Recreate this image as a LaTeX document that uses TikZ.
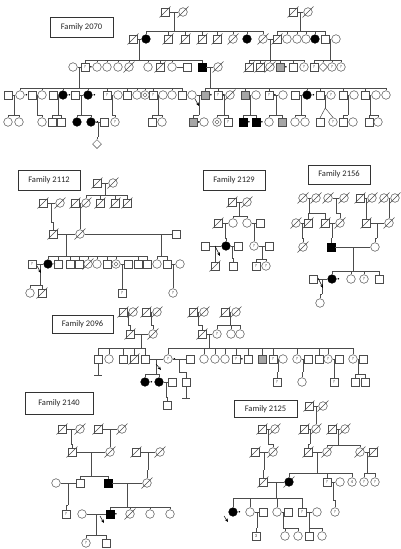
\documentclass[tikz,border=0pt]{standalone}
\usepackage{fontspec}
\setmainfont{Carlito}
\usetikzlibrary{shapes.geometric,arrows.meta}

\tikzset{
  ln/.style={draw=black!70, line width=0.5pt},
  base/.style={draw=black!70, line width=0.5pt, inner sep=0pt},
  sq/.style={base, rectangle, minimum size=7.6pt},
  ci/.style={base, circle, minimum size=8.6pt},
  dm/.style={base, diamond, minimum size=9pt},
  aff/.style={fill=black, draw=black},
  grey/.style={fill=black!35},
  dead/.style={append after command={\pgfextra{\draw[ln] ([shift={(-5.5,5.5)}]\tikzlastnode.center) -- ([shift={(5.5,-5.5)}]\tikzlastnode.center);}}},
  qlbl/.style={inner sep=0pt, font=\fontsize{4.5}{4.5}\selectfont, text=black!80},
  q/.style={label={[qlbl]center:?}},
  num/.style={label={[qlbl]center:#1}},
  dotl/.style={inner sep=0.5pt, font=\fontsize{4.5}{4.5}\selectfont},
  dot/.style={label={[dotl]right:•}},
  dmin/.style={label={[draw=black!70, line width=0.3pt, diamond, minimum size=4.5pt, inner sep=0pt]center:{}}},
  famlbl/.style={draw=black!80, line width=0.6pt, font=\fontsize{8.5}{8.5}\selectfont, text=black!85, inner sep=0pt},
  parrow/.style={draw=black, line width=0.5pt, -{Stealth[length=3.5pt,width=3pt]}},
}

% individuals
\newcommand\pSq[4][]{\node[sq,#1] (#2) at (#3,#4) {};}
\newcommand\pCi[4][]{\node[ci,#1] (#2) at (#3,#4) {};}
\newcommand\pDm[4][]{\node[dm,#1] (#2) at (#3,#4) {};}
% marriage line with a named point on it
\newcommand\wed[4][0.5]{\draw[ln] (#2) -- node[coordinate,pos=#1] (#4) {} (#3);}
% line of descent: parent point, sibship line height, children
\newcommand\kids[3]{%
  \draw[ln] (#1) -- (#1 |- 0,#2);
  \foreach \kd in {#3}{\draw[ln] (\kd.north) -- (\kd |- 0,#2) -- (#1 |- 0,#2);}}
% line ending in a bar: no offspring
\newcommand\nokids[2]{\draw[ln] (#1.south) -- (#1 |- 0,#2) ++(-4,0) -- ++(8,0);}

\begin{document}
\begin{tikzpicture}[x=1pt,y=-1pt]
\fill[white] (0,0) rectangle (401,549);
\useasboundingbox (0,0) rectangle (401,549);

% ---------------- Family 2070 ----------------
\node[famlbl, minimum width=63pt, minimum height=20pt] (t2070) at (81.5,27) {Family 2070};
\pSq[dead]{a1}{165}{12} \pCi[dead]{a2}{183}{12}
\pSq[dead]{a3}{293}{12} \pCi[dead]{a4}{308}{12}
% II
\pSq[dead]{a5}{133}{39} \pCi[aff]{a6}{146}{39}
\pSq[dead]{a7}{168}{39} \pSq[dead]{a8}{185}{39} \pSq[dead]{a9}{202}{39} \pSq[dead]{a10}{217}{39}
\pCi[dead]{a11}{233}{39} \pCi[aff]{a12}{247}{39} \pCi[dead]{a13}{263}{39}
\pSq[dead]{a14}{277}{39} \pCi{a15}{287}{39} \pCi{a16}{297}{39} \pCi{a17}{306}{39}
\pCi[aff]{a18}{315}{39} \pSq{a19}{325}{39} \pCi{a20}{336}{39}
% III
\pCi{a21}{73}{67} \pSq[q,dot]{a22}{85}{67} \pCi{a23}{97}{67} \pCi{a24}{107}{67}
\pCi{a25}{118}{67} \pCi[dead]{a26}{129}{67} \pCi{a27}{148}{67} \pSq[dead]{a28}{160}{67}
\pCi{a29}{172}{67} \pSq{a30}{187}{67} \pSq[aff]{a31}{202}{67} \pCi[dead]{a32}{218}{67}
\pSq[dead]{a33}{249}{67} \pSq[dead]{a34}{260}{67} \pCi[dead]{a35}{270}{67}
\pSq[grey,dot]{a36}{280}{67} \pSq{a37}{293}{67} \pCi[q]{a38}{304}{67}
\pSq[q]{a39}{314}{67} \pDm{a40}{323}{67} \pCi[q]{a41}{332}{67} \pCi[q]{a42}{341}{67}
% IV
\pSq{a43}{8}{95} \pCi[dot]{a44}{20}{95} \pSq{a45}{32}{95} \pCi{a46}{42}{95}
\pSq{a47}{53}{95} \pCi[aff,dot]{a48}{63}{95} \pSq{a49}{75}{95} \pCi[aff,dot]{a50}{88}{95}
\pSq[q]{a51}{107}{95} \pCi{a52}{118}{95} \pSq{a53}{127}{95} \pCi{a54}{137}{95}
\pCi[dmin]{a55}{145}{95} \pSq[q]{a56}{153}{95} \pCi{a57}{163}{95} \pCi{a58}{172}{95}
\pSq{a59}{182}{95} \pCi{a60}{192}{95} \pSq[grey,dot]{a61}{205}{95} \pSq[q,dot]{a62}{218}{95}
\pCi[dead]{a63}{230}{95} \pSq[grey]{a64}{245}{95} \pCi{a65}{256}{95} \pSq[q,dot]{a66}{269}{95}
\pCi{a67}{283}{95} \pSq{a68}{295}{95} \pCi[aff,dot]{a69}{307}{95} \pSq{a70}{320}{95}
\pCi[q]{a71}{331}{95} \pSq{a72}{343}{95} \pCi{a73}{354}{95} \pSq{a74}{365}{95}
\pCi{a75}{376}{95} \pCi{a76}{386}{95}
% V
\pCi{a77}{8}{122} \pCi{a78}{19}{122} \pCi{a79}{42}{122} \pSq{a80}{52}{122} \pSq{a81}{61}{122}
\pCi[aff]{a82}{77}{122} \pCi[aff,dot]{a83}{91}{122} \pSq{a84}{104}{122} \pDm{a85}{97}{144}
\pCi[q]{a86}{115}{122} \pSq{a87}{152}{122} \pCi{a88}{162}{122}
\pSq[grey,dot]{a89}{193}{122} \pCi{a90}{204}{122} \pCi[dmin]{a91}{217}{122} \pSq[q]{a92}{228}{122}
\pSq[aff,dot]{a93}{243}{122} \pSq[aff,dot]{a94}{256}{122} \pCi{a95}{269}{122} \pSq[grey]{a96}{282}{122}
\pCi{a97}{295}{122} \pCi{a98}{305}{122} \pSq{a99}{320}{122} \pCi[q]{a100}{333}{122}
\pSq{a101}{343}{122} \pCi{a102}{353}{122} \pSq{a103}{369}{122} \pCi{a104}{378}{122}
% unions and descent
\wed{a1}{a2}{ma1} \wed{a3}{a4}{ma2} \wed{a5}{a6}{ma3} \wed{a13}{a14}{ma4} \wed{a19}{a20}{ma5}
\kids{ma1}{31}{a6,a7,a8,a9,a10,a11,a12,a13}
\kids{ma2}{31}{a14,a15,a16,a17,a18,a19}
\wed{a21}{a22}{ma6} \wed{a29}{a30}{ma7} \wed{a31}{a32}{ma8}
\kids{ma3}{60}{a22,a23,a24,a25,a26,a27,a28,a29,a31}
\kids{ma4}{60}{a33,a34,a35,a36,a37,a38}
\kids{ma5}{60}{a39,a40,a41,a42}
\wed{a43}{a44}{ma9} \wed{a45}{a46}{ma10} \wed{a47}{a48}{ma11} \wed{a49}{a50}{ma12}
\wed{a51}{a52}{ma13} \wed{a56}{a57}{ma14} \wed{a60}{a61}{ma15} \wed{a62}{a63}{ma16}
\wed{a64}{a65}{ma17} \wed{a66}{a67}{ma18} \wed{a68}{a69}{ma19} \wed{a70}{a71}{ma20}
\wed{a72}{a73}{ma21} \wed{a74}{a75}{ma22}
\kids{ma6}{88}{a44,a46,a48,a50,a51,a53,a54,a55,a56,a58,a59}
\kids{ma8}{88}{a61,a62,a64,a66,a69,a70,a72,a74,a76}
\kids{ma9}{115}{a77,a78} \kids{ma10}{115}{a79} \kids{ma11}{115}{a80,a81}
\kids{ma12}{115}{a82,a83} \kids{ma13}{115}{a86} \kids{ma14}{115}{a87,a88}
\kids{ma15}{115}{a89} \kids{ma16}{115}{a91,a92} \kids{ma17}{115}{a93,a94}
\kids{ma18}{115}{a95,a96} \kids{ma19}{115}{a97,a98} \kids{ma21}{115}{a101}
\kids{ma22}{115}{a103,a104}
\draw[ln] (ma20) -- ++(0,13) coordinate (ta1);
\draw[ln] (a99.north) -- (ta1) -- (a100.north);
\wed{a83}{a84}{ma23} \wed{a89}{a90}{ma24} \wed{a101}{a102}{ma25}
\kids{ma23}{137}{a85}
\draw[parrow] (195,99) -- (199,106);

% ---------------- Family 2112 ----------------
\node[famlbl, minimum width=62pt, minimum height=20pt] (t2112) at (49,180) {Family 2112};
\pSq[dead]{b1}{97}{183} \pCi[dead]{b2}{113}{183}
\pSq[dead]{b3}{43}{203} \pCi[dead]{b4}{60}{203} \pSq[dead]{b5}{75}{203} \pCi[dead]{b6}{86}{203}
\pSq[dead]{b7}{100}{203} \pSq[dead]{b8}{115}{203} \pSq[dead]{b9}{127}{203}
\pSq[dead]{b10}{53}{234} \pCi[dead]{b11}{80}{234} \pSq{b12}{176}{234}
\pSq[q]{b13}{32}{264} \pCi[aff,dot]{b14}{48}{264} \pSq{b15}{58}{264} \pSq{b16}{70}{264}
\pSq{b17}{79}{264} \pCi[dead]{b18}{88}{264} \pCi{b19}{97}{264} \pSq{b20}{107}{264}
\pCi[dmin]{b21}{116}{264} \pSq{b22}{128}{264} \pSq{b23}{138}{264} \pSq{b24}{147}{264}
\pCi{b25}{157}{264} \pSq{b26}{167}{264} \pCi{b27}{180}{264}
\pCi{b28}{30}{293} \pSq[dead]{b29}{42}{293} \pSq[q]{b30}{122}{293} \pCi[q]{b31}{173}{293}
\wed{b1}{b2}{mb1} \wed{b3}{b4}{mb2} \wed{b5}{b6}{mb3}
\kids{mb1}{195}{b6,b7,b8,b9}
\kids{mb2}{222}{b10} \kids{mb3}{222}{b11}
\wed{b10}{b11}{mb4} \wed[0.88]{b11}{b12}{mb5}
\kids{mb4}{256}{b14,b15,b16,b17,b18,b19,b20,b21,b23,b24}
\kids{mb5}{256}{b25,b26}
\wed{b13}{b14}{mb6} \wed{b21}{b22}{mb7} \wed{b26}{b27}{mb8}
\kids{mb6}{285}{b28,b29} \kids{mb7}{285}{b30} \kids{mb8}{285}{b31}
\draw[parrow] (37,266) -- (41,273);

% ---------------- Family 2129 ----------------
\node[famlbl, minimum width=62pt, minimum height=20pt] (t2129) at (234,180) {Family 2129};
\pSq[dead]{c1}{232}{202} \pCi[dead]{c2}{247}{202}
\pSq[dead]{c3}{218}{223} \pCi{c4}{233}{223} \pCi{c5}{247}{223} \pSq{c6}{260}{223}
\pSq{c7}{205}{246} \pCi[aff]{c8}{226}{246} \pSq{c9}{238}{246} \pCi[q]{c10}{254}{246} \pSq{c11}{269}{246}
\pSq[dead]{c12}{215}{266} \pSq{c13}{233}{266} \pSq[q]{c14}{256}{266} \pCi[q]{c15}{266}{266}
\wed{c1}{c2}{mc1} \wed{c3}{c4}{mc2} \wed{c5}{c6}{mc3}
\kids{mc1}{216}{c4,c5}
\kids{mc2}{238}{c8} \kids{mc3}{238}{c10}
\wed{c7}{c8}{mc4} \wed{c8}{c9}{mc5} \wed{c10}{c11}{mc6}
\kids{mc4}{258}{c12} \kids{mc5}{258}{c13} \kids{mc6}{259}{c14,c15}
\draw[parrow] (215,246) -- (220,256);

% ---------------- Family 2156 ----------------
\node[famlbl, minimum width=62pt, minimum height=19pt] (t2156) at (339,174.5) {Family 2156};
\pCi[dead]{d1}{303}{198} \pCi[dead]{d2}{316}{198} \pCi[dead]{d3}{328}{198} \pCi[dead]{d4}{344}{198}
\pSq[dead]{d5}{360}{198} \pCi[dead]{d6}{372}{198} \pCi[dead]{d7}{384}{198} \pCi[dead]{d8}{395}{198}
\pCi[dead]{d9}{296}{223} \pSq[dead]{d10}{308}{223} \pSq[dead]{d11}{325}{223} \pCi[dead]{d12}{340}{223}
\pSq[dead]{d13}{366}{223} \pCi[dead]{d14}{389}{223}
\pCi[dead]{d15}{303}{247} \pSq[aff]{d16}{331}{247} \pCi{d17}{375}{247}
\pSq{d18}{313}{279} \pCi[aff,dot]{d19}{332}{279} \pCi{d20}{351}{279} \pCi[q]{d21}{364}{279} \pSq{d22}{379}{279}
\pCi{d23}{320}{303}
\wed{d1}{d2}{md1} \wed{d3}{d4}{md2} \wed{d5}{d6}{md3} \wed{d7}{d8}{md4}
\kids{md1}{213}{d10,d11} \kids{md2}{213}{d12} \kids{md3}{213}{d13} \kids{md4}{213}{d14}
\wed{d9}{d10}{md5} \wed{d11}{d12}{md6} \wed{d13}{d14}{md7}
\kids{md5}{238}{d15} \kids{md6}{238}{d16} \kids{md7}{238}{d17}
\wed{d16}{d17}{md8}
\kids{md8}{271}{d19,d20,d21,d22}
\wed{d18}{d19}{md9}
\kids{md9}{294}{d23}
\draw[parrow] (318,278) -- (323,288);

% ---------------- Family 2096 ----------------
\node[famlbl, minimum width=61pt, minimum height=18pt] (t2096) at (82.5,324) {Family 2096};
\pSq[dead]{e1}{123}{312} \pCi[dead]{e2}{133}{312} \pSq[dead]{e3}{146}{312} \pCi[dead]{e4}{157}{312}
\pSq[dead]{e5}{193}{312} \pCi[dead]{e6}{204}{312} \pSq[dead]{e7}{225}{312} \pCi[dead]{e8}{236}{312}
\pSq[dead]{e9}{130}{334} \pCi[dead]{e10}{153}{334}
\pSq[dead]{e11}{202}{334} \pCi[q]{e12}{217}{334} \pCi{e13}{231}{334} \pCi{e14}{240}{334}
\pSq{e15}{98}{359} \pCi{e16}{109}{359} \pSq{e17}{123}{359} \pSq[dead]{e18}{134}{359} \pSq{e19}{145}{359}
\pCi[q,dot]{e20}{168}{359} \pSq{e21}{190}{359} \pCi{e22}{204}{359} \pCi{e23}{215}{359} \pCi{e24}{225}{359}
\pSq[q,dot]{e25}{236}{359} \pSq{e26}{248}{359} \pSq[grey]{e27}{262}{359} \pSq[q]{e28}{273}{359}
\pCi{e29}{283}{359} \pCi[q]{e30}{297}{359} \pSq{e31}{308}{359} \pSq{e32}{319}{359} \pCi[q]{e33}{328}{359}
\pSq{e34}{339}{359} \pCi[q]{e35}{353}{359} \pSq{e36}{363}{359}
\pCi[aff,dot]{e37}{145}{382} \pCi[aff]{e38}{159}{382} \pSq{e39}{172}{382} \pSq{e40}{186}{382}
\pSq[q]{e41}{277}{382} \pCi{e42}{302}{382} \pSq[q]{e43}{334}{382} \pSq{e44}{355}{382} \pSq{e45}{365}{382}
\pSq{e46}{167}{405}
\wed{e1}{e2}{me1} \wed{e3}{e4}{me2} \wed{e5}{e6}{me3} \wed{e7}{e8}{me4}
\kids{me1}{325}{e9} \kids{me2}{325}{e10} \kids{me3}{325}{e11} \kids{me4}{325}{e12,e13,e14}
\wed{e9}{e10}{me5} \wed{e11}{e12}{me6}
\kids{me5}{348}{e15,e16,e17,e18,e19}
\kids{me6}{348}{e20,e22,e23,e24,e25,e26,e27,e28,e30,e32,e33,e35}
\wed{e19}{e20}{me7} \wed{e20}{e21}{me8} \wed{e28}{e29}{me9} \wed{e30}{e31}{me10}
\wed{e33}{e34}{me11} \wed{e35}{e36}{me12}
\nokids{e15}{375}
\kids{me7}{374}{e37,e38} \kids{me8}{372}{e40}
\kids{me9}{372}{e41} \kids{me10}{372}{e42} \kids{me11}{372}{e43} \kids{me12}{374}{e44,e45}
\wed{e38}{e39}{me13}
\kids{me13}{397}{e46}
\nokids{e40}{398}
\draw[parrow] (156,364) -- (161,370);

% ---------------- Family 2140 ----------------
\node[famlbl, minimum width=68pt, minimum height=22pt] (t2140) at (59,403) {Family 2140};
\pSq[dead]{f1}{62}{429} \pCi[dead]{f2}{80}{429} \pSq[dead]{f3}{98}{429} \pCi[dead]{f4}{122}{429}
\pSq[dead]{f5}{72}{452} \pCi[dead]{f6}{110}{452} \pSq[dead]{f7}{136}{452} \pCi[dead]{f8}{160}{452}
\pCi{f9}{56}{483} \pSq{f10}{80}{483} \pSq[aff]{f11}{108}{483} \pCi[dead]{f12}{147}{483}
\pSq[q]{f13}{66}{514} \pCi{f14}{82}{514} \pSq[aff,dot]{f15}{110}{514} \pCi[dead]{f16}{130}{514}
\pCi{f17}{150}{514} \pCi{f18}{170}{514}
\pCi[q]{f19}{86}{543} \pSq{f20}{106}{543}
\wed{f1}{f2}{mf1} \wed{f3}{f4}{mf2} \wed{f7}{f8}{mf4}
\kids{mf1}{444}{f5} \kids{mf2}{444}{f6}
\wed{f5}{f6}{mf3}
\kids{mf3}{476}{f10,f11} \kids{mf4}{470}{f12}
\wed{f9}{f10}{mf5} \wed{f11}{f12}{mf6}
\kids{mf5}{505}{f13} \kids{mf6}{507}{f15,f16,f17,f18}
\wed{f14}{f15}{mf7}
\kids{mf7}{535}{f19,f20}
\draw[parrow] (100,516) -- (104,523);

% ---------------- Family 2125 ----------------
\node[famlbl, minimum width=63pt, minimum height=17pt] (t2125) at (265.5,409) {Family 2125};
\pSq[dead]{g1}{309}{406} \pCi[dead]{g2}{323}{406}
\pSq[dead]{g3}{262}{429} \pCi[dead]{g4}{275}{429} \pSq[dead]{g5}{304}{429} \pCi[dead]{g6}{316}{429}
\pSq[dead]{g7}{332}{429} \pCi[dead]{g8}{345}{429}
\pSq[dead]{g9}{255}{452} \pCi[dead]{g10}{273}{452} \pSq[dead]{g11}{308}{452} \pCi[dead]{g12}{327}{452}
\pCi[dead]{g13}{360}{452} \pSq[dead]{g14}{373}{452}
\pSq[dead]{g15}{263}{482} \pCi[aff,dead]{g16}{289}{482} \pSq[q]{g17}{327}{482} \pCi{g18}{340}{482}
\pCi[num=4]{g19}{352}{482} \pCi[q]{g20}{364}{482} \pCi[q]{g21}{375}{482}
\pCi[aff,dot]{g22}{233}{512} \pCi{g23}{250}{512} \pSq{g24}{263}{512} \pCi{g25}{277}{512}
\pSq{g26}{288}{512} \pSq[q]{g27}{302}{512} \pCi{g28}{317}{512} \pCi[q]{g29}{335}{512}
\pSq[num=3]{g30}{256}{536} \pCi{g31}{285}{536} \pCi{g32}{298}{536} \pSq{g33}{309}{536} \pCi{g34}{322}{536}
\wed{g1}{g2}{mg1} \wed{g3}{g4}{mg2} \wed{g5}{g6}{mg3} \wed{g7}{g8}{mg4}
\kids{mg1}{420}{g6}
\kids{mg2}{444}{g10} \kids{mg3}{444}{g11} \kids{mg4}{445}{g12,g13}
\wed{g9}{g10}{mg5} \wed{g11}{g12}{mg6} \wed{g13}{g14}{mg7}
\kids{mg5}{470}{g15} \kids{mg6}{473}{g16,g17,g19} \kids{mg7}{473}{g20,g21}
\wed{g15}{g16}{mg8} \wed{g17}{g18}{mg9}
\kids{mg8}{498}{g22,g23,g25,g27} \kids{mg9}{500}{g29}
\wed{g23}{g24}{mg10} \wed{g25}{g26}{mg11} \wed{g27}{g28}{mg12}
\kids{mg10}{528}{g30} \kids{mg11}{528}{g31,g32} \kids{mg12}{528}{g33,g34}
\draw[parrow] (224,516) -- (228,522);
\end{tikzpicture}
\end{document}
